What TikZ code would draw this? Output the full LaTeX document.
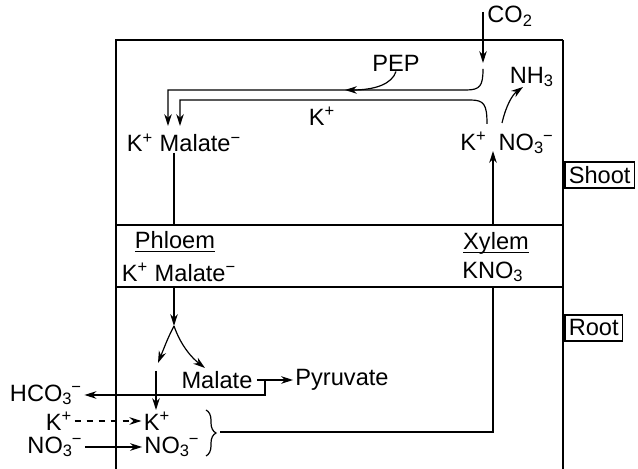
\documentclass[tikz,border=0pt]{standalone}
\usepackage{fontspec}
\setmainfont{Liberation Sans}
\usetikzlibrary{arrows.meta, positioning, decorations.pathreplacing}
\newcommand{\subsup}[2]{\textsubscript{#1}\kern-0.6pt\textsuperscript{#2}}
\newcommand{\ulabel}[1]{\underline{\raisebox{0pt}[\height][0pt]{#1}}}

\begin{document}
\begin{tikzpicture}[
    x=0.5pt, y=-0.5pt,
    every node/.style={font=\fontsize{11.8}{14}\selectfont, inner sep=0pt},
    arrow/.style={-{Stealth[length=6pt, width=3.8pt]}, line width=0.6pt},
    wire/.style={line width=0.6pt},
    tag/.style={draw, line width=0.8pt, inner sep=2pt, minimum height=13pt}
]
    \useasboundingbox (0,0) rectangle (638,469);

    % outline of the plant and the transport band
    \draw[line width=0.9pt] (116,469) -- (116,40) -- (563,40);
    \draw[line width=1.4pt] (563,40) -- (563,469);
    \draw[wire] (116,225) -- (563,225);
    \draw[wire] (116,287) -- (563,287);
    \node[tag, anchor=west] (shoot) at (564,175) {Shoot};
    \node[tag, anchor=west] (root) at (564,328) {Root};

    % shoot
    \node (co2) [anchor=west] at (487,16) {CO\textsubscript{2}};
    \node (pep) at (396,63) {PEP};
    \node (nh3) at (532,77) {NH\textsubscript{3}};
    \node (kplus) at (322,116) {K\textsuperscript{+}};
    \node (shmal) at (184,143) {K\textsuperscript{+} Malate\textsuperscript{−}};
    \node (shnit) at (507,143) {K\textsuperscript{+}\hspace{6pt}NO\subsup{3}{−}};

    % phloem / xylem
    \node (phl) at (175,242) {\ulabel{Phloem}};
    \node (xyl) at (496,243) {\ulabel{Xylem}};
    \node (bdmal) at (179,272) {K\textsuperscript{+} Malate\textsuperscript{−}};
    \node (bdnit) at (493,272) {KNO\textsubscript{3}};

    % root
    \node (rmal) at (217,380) {Malate};
    \node (pyr) at (342,380) {Pyruvate};
    \node (hco) at (46,395) {HCO\subsup{3}{−}};
    \node (kout) at (59,421) {K\textsuperscript{+}};
    \node (kin) at (157,421) {K\textsuperscript{+}};
    \node (nout) at (55,447) {NO\subsup{3}{−}};
    \node (nin) at (172,447) {NO\subsup{3}{−}};

    \coordinate (co2top) at (483,12);
    \coordinate (co2end) at (483,63);
    \coordinate (co2go) at (483,69);
    \coordinate (kgo) at (487,124);
    \coordinate (nhgo) at (502,123);
    \coordinate (malA) at (168,126);
    \coordinate (malB) at (180,126);
    \coordinate (phtop) at (174,225);
    \coordinate (phbot) at (174,287);
    \coordinate (xytop) at (493,225);
    \coordinate (xyin) at (493,151);
    \coordinate (fork) at (174,326);
    \coordinate (kdown) at (156,371);
    \coordinate (split) at (265,380);
    \coordinate (brace) at (220,432);

    % connectors
    \draw[arrow] (co2top) -- (co2end);
    \draw[arrow] (co2go) .. controls (483,86) and (480,90) .. (466,90) -- (168,90) -- (malA);
    \draw[arrow] (kgo) .. controls (487,104) and (484,100) .. (470,100) -- (180,100) -- (malB);
    \draw[arrow] (pep.south) .. controls (392,84) and (375,90) .. (345,90);
    \draw[arrow] (nhgo) .. controls (506,106) and (512,95) .. (523,87);
    \draw[wire] (shmal.south -| phtop) -- (phtop);
    \draw[arrow] (xytop) -- (xyin);
    \draw[arrow] (phbot) -- (fork);
    \draw[arrow] (fork) .. controls (168,338) .. (158,363);
    \draw[arrow] (fork) .. controls (181,346) and (192,358) .. (205,368);
    \draw[arrow] (kdown) -- (156,410);
    \draw[arrow] ([xshift=2pt]rmal.east) -- ([xshift=-1pt]pyr.west);
    \draw[arrow] (split) -- (265,395) -- ([xshift=1pt]hco.east |- 0,395);
    \draw[arrow, dashed] ([xshift=1pt]kout.east) -- ([xshift=-1pt]kin.west);
    \draw[arrow] ([xshift=1pt]nout.east) -- ([xshift=-1pt]nin.west);
    \draw[wire, decorate, decoration={brace, amplitude=5}] (206,410) -- (206,456);
    \draw[wire] (brace) -- (493,432) -- (493,287);
\end{tikzpicture}
\end{document}
